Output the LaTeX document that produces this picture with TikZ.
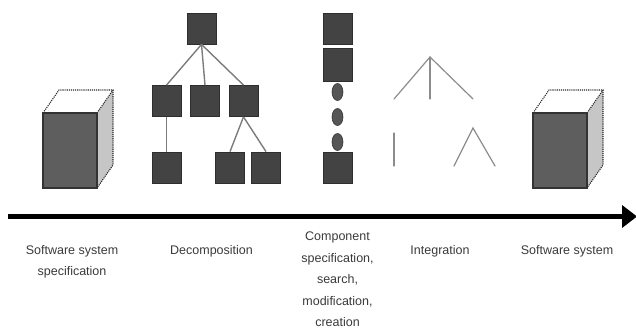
\documentclass[tikz,border=0pt]{standalone}
\usepackage{fontspec}
\setmainfont{Liberation Sans}
\usetikzlibrary{shapes.geometric}
\definecolor{sqfill}{HTML}{434343}
\definecolor{sqdraw}{HTML}{2E2E2E}
\definecolor{cubefront}{HTML}{5E5E5E}
\definecolor{cubeside}{HTML}{C6C6C6}
\definecolor{linkgray}{HTML}{7C7C7C}
\definecolor{intgray}{HTML}{8C8C8C}
\definecolor{txtgray}{HTML}{3A3A3A}
\tikzset{
  sq/.style={rectangle, draw=sqdraw, fill=sqfill, line width=0.8pt, minimum width=29pt, minimum height=31pt, inner sep=0pt},
  dot/.style={ellipse, draw=sqdraw, fill=sqfill!90!white, line width=0.6pt, minimum width=11pt, minimum height=17pt, inner sep=0pt},
  link/.style={draw=linkgray, line width=1.4pt},
  intline/.style={draw=intgray, line width=1.2pt, line cap=round},
  lbl/.style={text=txtgray, font=\fontsize{12.5}{21.5}\selectfont, align=center, inner sep=0pt, anchor=north},
  cubeedge/.style={densely dotted, line width=1.1pt, draw=black!85},
}
\newcommand{\mycube}[2]{%
  \fill[cubeside] (#1+54,#2-75) -- (#1+70,#2-98) -- (#1+70,#2-23) -- (#1+54,#2) -- cycle;
  \fill[white] (#1,#2-75) -- (#1+16,#2-98) -- (#1+70,#2-98) -- (#1+54,#2-75) -- cycle;
  \draw[cubeedge] (#1,#2-75) -- (#1+16,#2-98) -- (#1+70,#2-98) -- (#1+70,#2-23) -- (#1+54,#2);
  \draw[cubeedge] (#1+54,#2-75) -- (#1+70,#2-98);
  \draw[draw=black!80, fill=cubefront, line width=1.4pt] (#1,#2-75) rectangle (#1+54,#2);
}
\begin{document}
\begin{tikzpicture}[x=1pt,y=-1pt]
\useasboundingbox (0,0) rectangle (636,329);
% cubes
\mycube{43}{188}
\mycube{533}{188}
% decomposition tree: lines first (via coordinates), then squares on top
\coordinate (p0) at (201.5,28.5);
\coordinate (p1) at (166.5,101);
\coordinate (p2) at (205,101);
\coordinate (p3) at (243.5,101);
\coordinate (p4) at (166.5,167.5);
\coordinate (p5) at (230,167.5);
\coordinate (p6) at (266,167.5);
\node[sq] (t0) at (p0) {};
\node[sq] (t1) at (p1) {};
\node[sq] (t2) at (p2) {};
\node[sq] (t3) at (p3) {};
\node[sq] (t4) at (p4) {};
\node[sq] (t5) at (p5) {};
\node[sq] (t6) at (p6) {};
\draw[link] (t0.south) -- (t1.north);
\draw[link] (t0.south) -- (t2.north);
\draw[link] (t0.south) -- (t3.north);
\draw[link] (t1.south) -- (t4.north);
\draw[link] (t3.south) -- (t5.north);
\draw[link] (t3.south) -- (t6.north);
% component column
\node[sq] (c1) at (337.5,28.5) {};
\node[sq, minimum height=33pt] (c2) at (337.5,64.5) {};
\node[dot] (d1) at (337.5,92) {};
\node[dot] (d2) at (337.5,117) {};
\node[dot] (d3) at (337.5,142) {};
\node[sq] (c3) at (337.5,167.5) {};
% integration
\coordinate (ia) at (430,57);
\coordinate (ib) at (394,99);
\coordinate (ic) at (430,99);
\coordinate (id) at (473,99);
\draw[intline] (ia) -- (ib);
\draw[intline] (ia) -- (ic);
\draw[intline] (ia) -- (id);
\coordinate (ja) at (394,133);
\coordinate (jb) at (394,166);
\draw[intline] (ja) -- (jb);
\coordinate (ka) at (473,128);
\coordinate (kb) at (454,166);
\coordinate (kc) at (495,166);
\draw[intline] (kb) -- (ka) -- (kc);
% arrow
\coordinate (as) at (8,216.5);
\coordinate (ae) at (624,216.5);
\draw[line width=5pt, black] (as) -- (ae);
\fill[black] (622,205) -- (637,216.5) -- (622,228) -- cycle;
% labels
\node[lbl] (l1) at (72,245) {Software system\\specification};
\node[lbl] (l2) at (211.5,245) {Decomposition};
\node[lbl] (l3) at (337.5,232) {Component\\specification,\\search,\\modification,\\creation};
\node[lbl] (l4) at (440,245) {Integration};
\node[lbl] (l5) at (567,245) {Software system};
\end{tikzpicture}
\end{document}
